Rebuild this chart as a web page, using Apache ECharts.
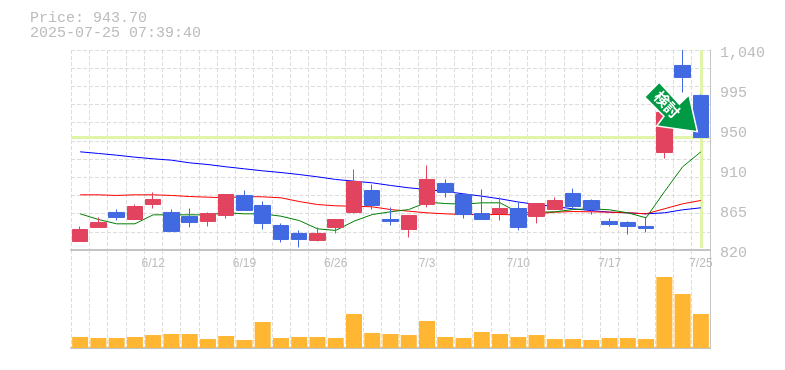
<!DOCTYPE html>
<html>
<head>
<meta charset="utf-8">
<style>html,body{margin:0;padding:0;background:#fff}#c{width:785px;height:370px}</style>
<script src="https://cdn.jsdelivr.net/npm/echarts@6/dist/echarts.min.js"></script>
</head>
<body>
<div id="c"></div>
<script>
const categories = ['6/6','6/9','6/10','6/11','6/12','6/13','6/16','6/17','6/18','6/19','6/20','6/23','6/24','6/25','6/26','6/27','6/30','7/1','7/2','7/3','7/4','7/7','7/8','7/9','7/10','7/11','7/14','7/15','7/16','7/17','7/18','7/22','7/23','7/24','7/25'];
const shownDates = ['6/12','6/19','6/26','7/3','7/10','7/17','7/25'];
const opens = [829.3,844.8,861.3,853.5,870,861.3,856.9,851.4,858,880,869,846.9,838.2,830.5,844.8,861.3,885.4,853.5,842.5,870,893.2,881,860.1,860.1,865.6,856.9,864.6,882.2,874.4,851.4,850.3,845.9,927.2,1023,990];
const closes = [842.5,850.3,855.8,867.8,875.6,840.4,850.3,860.1,881,863.5,849.1,831.6,831.6,838.2,853.5,895.3,869,851.4,858,897.6,883.3,859,853.5,865.6,844.8,871.1,874.4,867.8,864.6,848,845.9,843.7,971.3,1009.8,943.7];
const lows = [829.3,844.8,852.5,853.5,865.6,840.4,844.8,845.9,854.6,863.5,842.5,828.3,822.8,829.4,838.2,860.1,864.6,847,833.8,866.8,877.8,854.6,853.5,852.5,841.5,849.2,864.6,864.6,859,845.9,837,839.3,920.7,993.2,943.7];
const highs = [845.8,855.8,864.6,870,883.3,864.6,865.6,861.3,881,885.4,873.4,849.2,841.5,844.8,853.5,908.6,892,866.8,858,913,897.6,881,886.6,877.8,872.3,871.1,877.8,887.6,875.6,854.6,851.4,855.8,971.3,1040,991];
const maLong = [928,926.2,924.3,922.1,920.3,918.8,915.9,914,911.5,909.3,907.1,905.2,903,900.5,897.6,895.7,893.9,891,888.4,886.6,884.4,881.8,879.2,876.3,872.8,870,867.8,865.3,863.4,861.6,860.9,859.8,860.9,864.2,866.4];
const maMid = [880.7,880.7,880,880.7,880.7,880,878.8,878.1,877.4,878.8,878.5,877.4,873.3,870,868.6,868.2,867.5,864.5,862.7,860.9,859.8,859,859,859,858.7,859.8,861.6,862.3,862,861.6,860.9,859.8,865.3,870.8,874.5];
const maShort = [859.8,853.6,848.8,848.8,858.7,858.7,858.7,858.7,860.9,859.8,859.8,857.2,852.4,843.3,841.5,851.7,859,862,864.5,872.6,871.1,870.4,871.9,871.9,861.3,861.6,862,864.5,865.3,864.2,860.9,855.4,884,911.5,928];
const volumes = [11,10,10,11,13,14,14,9,12,8,26,10,11,11,10,34,15,14,13,27,11,10,16,14,11,13,9,9,8,10,10,9,71,54,34];
const priceTicks = [820,864,908,952,996,1040];
const priceTickLabels = ['820','865','910','950','995','1,040'];
const lastPrice = 943.70;
const stamp = '2025-07-25 07:39:40';
const arrowOutline = [[659.3,82.3],[644.7,97],[664,116.3],[656.7,126],[697.3,131.7],[689,95],[679.3,104.3]];

const MONO = '"Liberation Mono", monospace';
const GREY = '#bcbcbc';
const grid = '#dddddd';
const chart = echarts.init(document.getElementById('c'), null, {renderer:'canvas'});
const candleData = categories.map((_, i) => [opens[i], closes[i], lows[i], highs[i]]);
const splitX = {show:true, interval:0, lineStyle:{color:grid, type:'dashed', width:1}};
chart.setOption({
  animation:false,
  backgroundColor:'#fff',
  title:{text:'Price: '+lastPrice.toFixed(2)+'\n'+stamp, left:25, top:6,
    textStyle:{fontFamily:MONO, fontSize:15, fontWeight:'normal', color:GREY, lineHeight:15}},
  grid:[
    {left:71, top:50, width:639, height:200},
    {left:71, top:250, width:639, height:99}
  ],
  xAxis:[
    {type:'category', gridIndex:0, data:categories, boundaryGap:true,
      axisLine:{show:true, lineStyle:{color:'#c4c4c4', width:2}}, axisTick:{show:false},
      splitLine:splitX,
      axisLabel:{show:true, margin:8, color:GREY, fontFamily:'"Liberation Sans"', fontSize:12,
        interval:(i, v) => shownDates.includes(v), hideOverlap:false}},
    {type:'category', gridIndex:1, data:categories, boundaryGap:true,
      axisLine:{show:true, lineStyle:{color:'#c4c4c4', width:2}}, axisTick:{show:false},
      splitLine:splitX, axisLabel:{show:false}}
  ],
  yAxis:[
    {type:'value', gridIndex:0, position:'right', min:820, max:1040, interval:20,
      axisLine:{show:true, lineStyle:{color:'#c4c4c4', width:1}}, axisTick:{show:false},
      splitLine:{show:true, lineStyle:{color:grid, type:'dashed', width:1}},
      axisLabel:{show:true, margin:10, color:GREY, fontFamily:MONO, fontSize:15,
        verticalAlign:'top', lineHeight:6,
        customValues:priceTicks, showMinLabel:true, showMaxLabel:true,
        formatter:(v) => { const k = priceTicks.indexOf(v); return k >= 0 ? priceTickLabels[k] : ''; }}},
    {type:'value', gridIndex:1, position:'right', min:-1, max:98,
      axisLine:{show:true, lineStyle:{color:'#c4c4c4', width:1}}, axisTick:{show:false},
      splitLine:{show:false}, axisLabel:{show:false}}
  ],
  series:[
    {name:'long', type:'line', xAxisIndex:0, yAxisIndex:0, data:maLong, showSymbol:false, z:2,
      lineStyle:{color:'#0000ff', width:1}},
    {name:'mid', type:'line', xAxisIndex:0, yAxisIndex:0, data:maMid, showSymbol:false, z:2,
      lineStyle:{color:'#ff0000', width:1}},
    {name:'short', type:'line', xAxisIndex:0, yAxisIndex:0, data:maShort, showSymbol:false, z:2,
      lineStyle:{color:'#008000', width:1}},
    {name:'price', type:'candlestick', xAxisIndex:0, yAxisIndex:0, data:candleData, barWidth:16, z:3,
      itemStyle:{color:'#e2435f', borderColor:'#e2435f', color0:'#4169e1', borderColor0:'#4169e1', borderWidth:1},
      markLine:{silent:true, symbol:'none', z:1, label:{show:false},
        lineStyle:{color:'#e1f5a8', width:3, type:'solid'},
        data:[{yAxis:lastPrice},
          [{xAxis:categories[categories.length-1], yAxis:1040},{xAxis:categories[categories.length-1], yAxis:822}]]}},
    {name:'volume', type:'bar', xAxisIndex:1, yAxisIndex:1, data:volumes, barWidth:16, z:3,
      itemStyle:{color:'#ffb733'}}
  ],
  graphic:[
    {type:'polygon', z:100, shape:{points:arrowOutline},
      style:{fill:'#009944', stroke:'#ffffff', lineWidth:1.5, lineJoin:'miter'}},
    {type:'text', z:101, x:662, y:99, rotation:-Math.PI/4,
      style:{text:'検', fill:'#fff', font:'bold 15px "Noto Sans CJK JP"', align:'center', verticalAlign:'middle'}},
    {type:'text', z:101, x:672, y:110, rotation:-Math.PI/4,
      style:{text:'討', fill:'#fff', font:'bold 15px "Noto Sans CJK JP"', align:'center', verticalAlign:'middle'}}
  ]
});
</script>
</body>
</html>
